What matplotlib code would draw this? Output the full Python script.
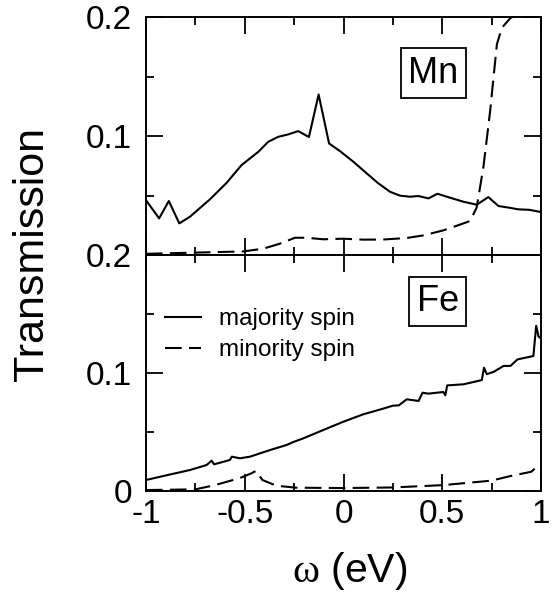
import matplotlib
matplotlib.use("Agg")
import matplotlib.pyplot as plt
from matplotlib.ticker import MultipleLocator, FixedFormatter, FixedLocator

plt.rcParams["font.family"] = ["Liberation Sans", "DejaVu Sans"]
plt.rcParams["axes.unicode_minus"] = False
plt.rcParams["mathtext.fontset"] = "custom"
plt.rcParams["mathtext.rm"] = "Liberation Serif"
plt.rcParams["mathtext.it"] = "Liberation Serif"

# ── Mn panel ────────────────────────────────────────────────────────
mn_maj_x = [-1.0, -0.933, -0.884, -0.831, -0.777, -0.676, -0.591, -0.516, -0.431,
            -0.381, -0.330, -0.280, -0.229, -0.175, -0.126, -0.073, -0.018, 0.050,
            0.117, 0.176, 0.235, 0.286, 0.337, 0.379, 0.430, 0.475, 0.539, 0.607,
            0.674, 0.733, 0.784, 0.83, 0.885, 0.94, 1.0]
mn_maj_y = [0.0462, 0.0308, 0.0454, 0.0266, 0.0322, 0.0468, 0.0608, 0.0756, 0.0868,
            0.0952, 0.0994, 0.1014, 0.1042, 0.0992, 0.135, 0.0938, 0.0874, 0.0784,
            0.0687, 0.0603, 0.0532, 0.0499, 0.0490, 0.0496, 0.0476, 0.0515, 0.0482,
            0.0448, 0.0423, 0.0487, 0.0412, 0.040, 0.0384, 0.038, 0.0361]

mn_min_x = [-1.0, -0.75, -0.507, -0.406, -0.322, -0.246, -0.186, -0.102, -0.001,
            0.100, 0.20, 0.320, 0.405, 0.505, 0.58, 0.641, 0.674, 0.708, 0.742,
            0.776, 0.801, 0.843, 0.9, 1.0]
mn_min_y = [0.001, 0.002, 0.003, 0.0053, 0.0095, 0.0145, 0.0145, 0.0132, 0.0137,
            0.0129, 0.013, 0.0143, 0.0165, 0.0207, 0.025, 0.0286, 0.040, 0.074,
            0.121, 0.177, 0.191, 0.199, 0.205, 0.21]

# ── Fe panel ────────────────────────────────────────────────────────
fe_maj_x = [-1.0, -0.912, -0.777, -0.693, -0.667, -0.655, -0.575, -0.565, -0.524,
            -0.473, -0.372, -0.288, -0.254, -0.204, -0.102, -0.001, 0.1, 0.201,
            0.25, 0.28, 0.32, 0.38, 0.40, 0.43, 0.505, 0.515, 0.525, 0.607, 0.700,
            0.711, 0.725, 0.76, 0.79, 0.81, 0.845, 0.88, 0.961, 0.975, 0.987, 1.0]
fe_maj_y = [0.0093, 0.0127, 0.0178, 0.022, 0.0257, 0.0226, 0.0263, 0.0291, 0.0277,
            0.0291, 0.0347, 0.039, 0.0415, 0.0446, 0.0517, 0.0587, 0.065, 0.0698,
            0.0723, 0.0726, 0.0777, 0.0763, 0.0833, 0.0825, 0.0839, 0.0811, 0.0895,
            0.0904, 0.094, 0.1045, 0.099, 0.101, 0.104, 0.106, 0.106, 0.1115,
            0.1144, 0.140, 0.131, 0.129]

fe_min_x = [-1.0, -0.75, -0.65, -0.524, -0.47, -0.443, -0.41, -0.34, -0.24, 0.0,
            0.25, 0.505, 0.75, 0.845, 0.95, 0.975, 1.0]
fe_min_y = [0.0008, 0.0014, 0.005, 0.011, 0.0147, 0.017, 0.0093, 0.0045, 0.0028,
            0.0025, 0.003, 0.005, 0.0088, 0.0127, 0.0163, 0.02, 0.0192]

LW = 1.5
DASH = (0, (8, 3.5))

fig = plt.figure(figsize=(5.59, 5.93), dpi=100)
ax1 = fig.add_axes([0.261, 0.570, 0.707, 0.401])
ax2 = fig.add_axes([0.261, 0.172, 0.707, 0.398])

ax1.plot(mn_maj_x, mn_maj_y, color="black", lw=LW)
ax1.plot(mn_min_x, mn_min_y, color="black", lw=LW, linestyle=DASH)
ax2.plot(fe_maj_x, fe_maj_y, color="black", lw=LW, label="majority spin")
ax2.plot(fe_min_x, fe_min_y, color="black", lw=LW, linestyle=DASH, label="minority spin")

for ax in (ax1, ax2):
    ax.set_xlim(-1, 1)
    ax.set_ylim(0, 0.2)
    ax.xaxis.set_major_locator(MultipleLocator(0.5))
    ax.xaxis.set_minor_locator(MultipleLocator(0.25))
    ax.yaxis.set_major_locator(MultipleLocator(0.1))
    ax.yaxis.set_minor_locator(MultipleLocator(0.05))
    ax.tick_params(which="both", direction="in", top=True, right=True, width=1.3,
                   labelsize=24)
    ax.tick_params(which="major", length=12)
    ax.tick_params(which="minor", length=5.5)
    ax.tick_params(axis="x", pad=6)
    ax.tick_params(axis="y", pad=10)
    for s in ax.spines.values():
        s.set_linewidth(1.4)

ax1.tick_params(labelbottom=False)
ax1.yaxis.set_major_locator(FixedLocator([0.0, 0.1, 0.2]))
ax1.yaxis.set_major_formatter(FixedFormatter(["", "0.1", "0.2"]))
ax2.yaxis.set_major_locator(FixedLocator([0.0, 0.1, 0.2]))
ax2.yaxis.set_major_formatter(FixedFormatter(["0", "0.1", "0.2"]))
ax2.xaxis.set_major_locator(FixedLocator([-1, -0.5, 0, 0.5, 1]))
ax2.xaxis.set_major_formatter(FixedFormatter(["-1", "-0.5", "0", "0.5", "1"]))

box = dict(boxstyle="square,pad=0.2", facecolor="white", edgecolor="black", lw=1.3)
ax1.text(0.728, 0.765, "Mn", transform=ax1.transAxes, fontsize=26,
         ha="center", va="center", bbox=box)
ax2.text(0.738, 0.803, "Fe", transform=ax2.transAxes, fontsize=26,
         ha="center", va="center", bbox=box)

ax2.legend(loc="upper left", bbox_to_anchor=(0.048, 0.775), frameon=False,
           fontsize=17.5, handlelength=1.5, handletextpad=0.72, labelspacing=0.37,
           borderpad=0, borderaxespad=0)

fig.text(32 / 559, 1 - 254 / 593, "Transmission", rotation=90, fontsize=31,
         ha="center", va="center")
fig.text(350 / 559, 1 - 582 / 593, r"$\mathrm{\omega}$ (eV)", fontsize=29.5,
         ha="center", va="baseline")

fig.savefig("out.png", dpi=100)
